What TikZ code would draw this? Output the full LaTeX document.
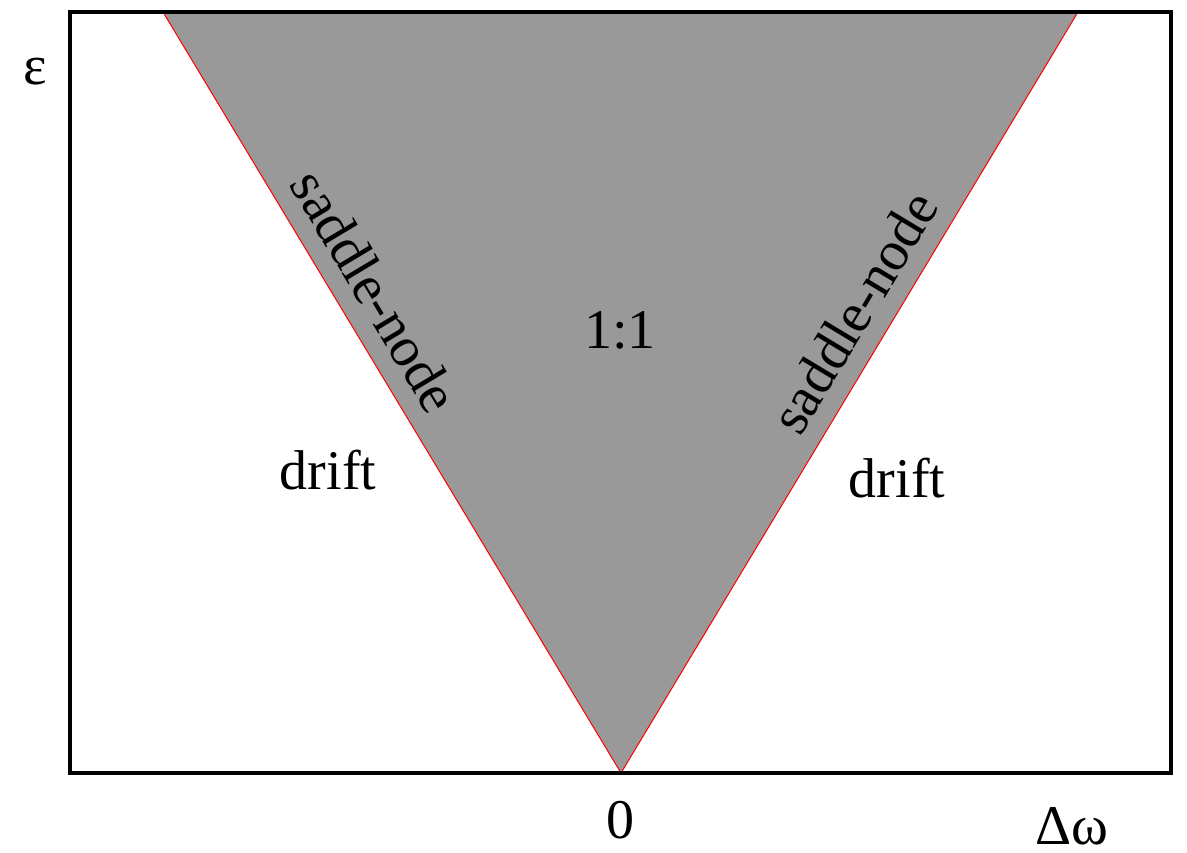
\documentclass[tikz,border=0pt]{standalone}
\usepackage{fontspec}
\setmainfont{Liberation Serif}
\begin{document}
\begin{tikzpicture}[x=1pt,y=1pt,
  lbl/.style={inner sep=0pt,font=\fontsize{56}{60}\selectfont}]
\useasboundingbox (0,0) rectangle (1187,853);
\coordinate (apex) at (621,80);
\coordinate (tl) at (163,841);
\coordinate (tr) at (1078,841);
\fill[fill={rgb,255:red,153;green,153;blue,153}] (tl) -- (apex) -- (tr) -- cycle;
\draw[red,line width=1pt] (tl) -- (apex) -- (tr);
\draw[line width=3.2pt] (70,80) rectangle (1171,841);
\node[lbl] (eps) at (35,781) {ε};
\node[lbl] (ratio) at (620,523) {1:1};
\node[lbl] (driftL) at (328,383) {drift};
\node[lbl] (driftR) at (897,375) {drift};
\node[lbl] (zero) at (620,33) {0};
\node[lbl] (dw) at (1072,27) {Δω};
\node[lbl,rotate=-59] (snL) at (375,562) {saddle-node};
\node[lbl,rotate=59] (snR) at (854,541) {saddle-node};
\end{tikzpicture}
\end{document}
